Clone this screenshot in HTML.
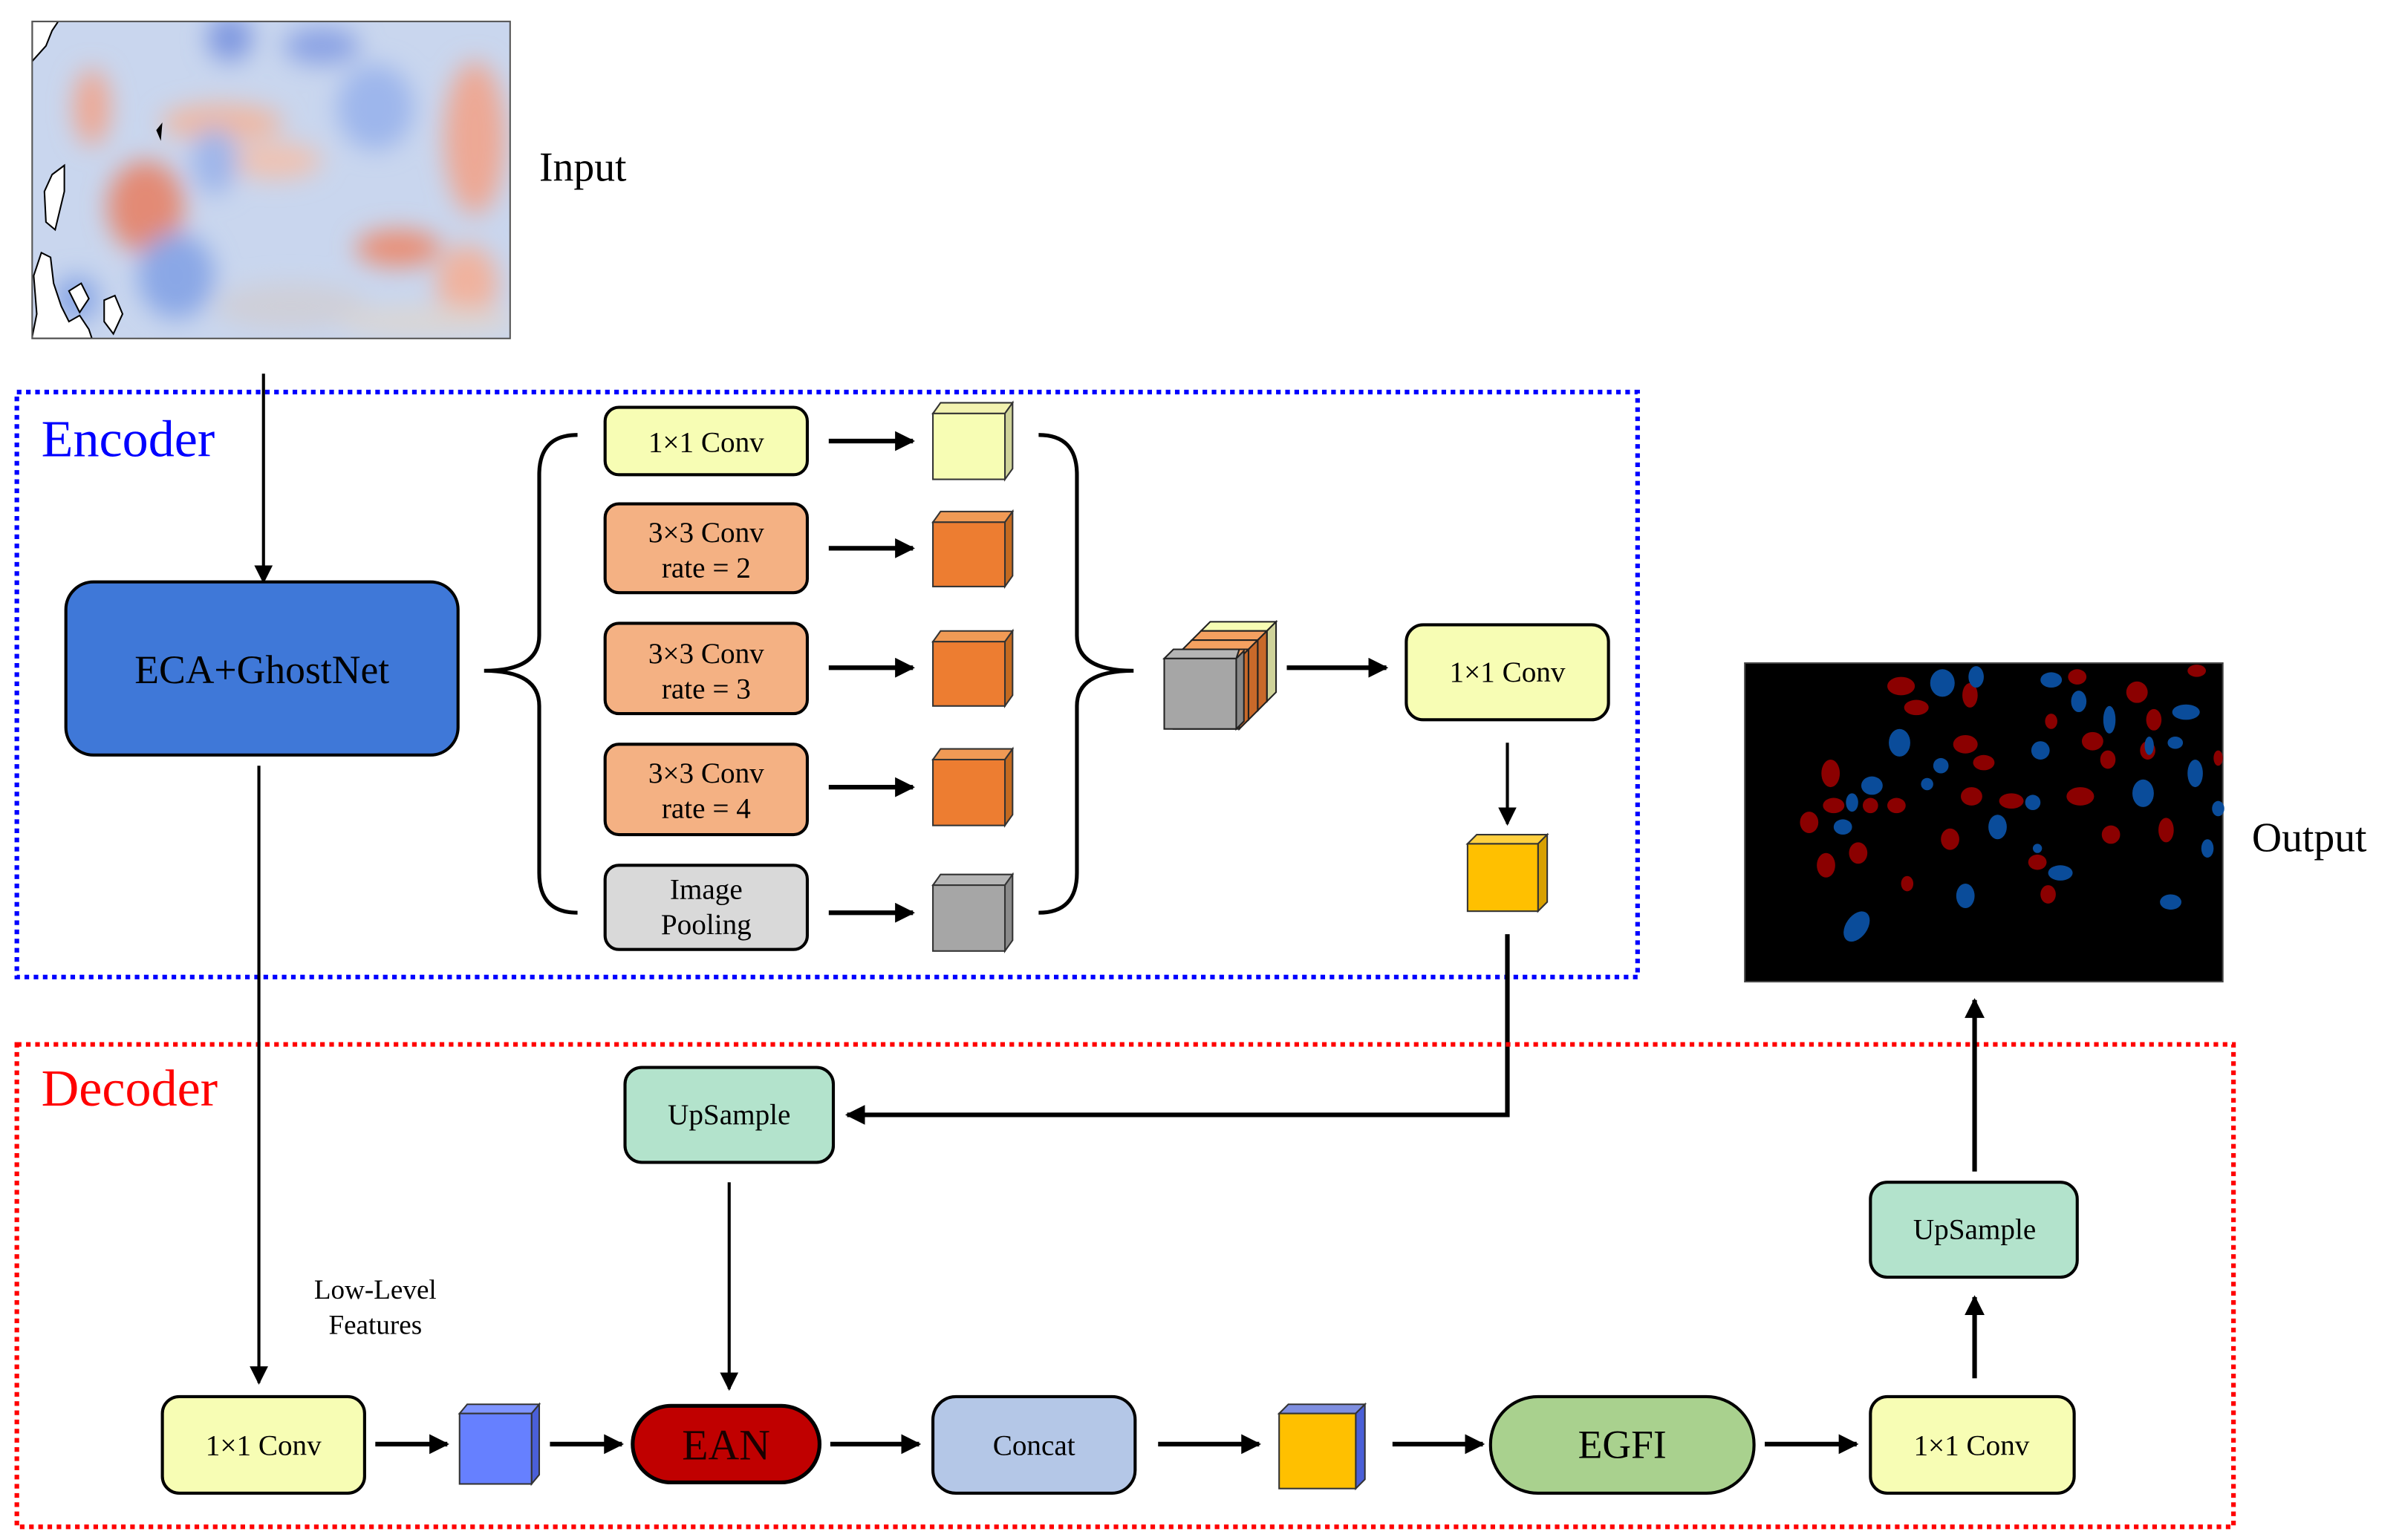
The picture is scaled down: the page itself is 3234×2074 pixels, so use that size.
<!DOCTYPE html>
<html><head><meta charset="utf-8"><style>
html,body{margin:0;padding:0;background:#fff;}
svg{display:block;}
text{font-family:"Liberation Serif",serif;fill:#000;}
</style></head><body>
<svg width="3234" height="2074" viewBox="0 0 1568 1005.6" preserveAspectRatio="none" xmlns="http://www.w3.org/2000/svg">
<defs>
<marker id="ah" viewBox="0 0 10 10" refX="9" refY="5" markerWidth="13" markerHeight="13" orient="auto" markerUnits="userSpaceOnUse"><path d="M0,0 L10,5 L0,10 z" fill="#000"/></marker>
<marker id="ah2" viewBox="0 0 10 10" refX="9" refY="5" markerWidth="12" markerHeight="12" orient="auto" markerUnits="userSpaceOnUse"><path d="M0,0 L10,5 L0,10 z" fill="#000"/></marker>
<filter id="bl" x="-20%" y="-20%" width="140%" height="140%"><feGaussianBlur stdDeviation="8"/></filter>
<clipPath id="mc"><rect x="21" y="14" width="312" height="207"/></clipPath>
</defs>

<!-- Input map -->
<g clip-path="url(#mc)">
<rect x="21" y="14" width="312" height="207" fill="#c9d6ee"/>
<g filter="url(#bl)">
<ellipse cx="95" cy="135" rx="25" ry="30" fill="#e38a74"/>
<ellipse cx="145" cy="80" rx="40" ry="12" fill="#efb8a2"/>
<ellipse cx="60" cy="70" rx="12" ry="25" fill="#eda894"/>
<ellipse cx="260" cy="162" rx="28" ry="12" fill="#e98e74"/>
<ellipse cx="310" cy="90" rx="20" ry="50" fill="#eda894"/>
<ellipse cx="305" cy="185" rx="20" ry="25" fill="#f0b29e"/>
<ellipse cx="180" cy="105" rx="30" ry="12" fill="#efc2b2"/>
<ellipse cx="150" cy="25" rx="15" ry="15" fill="#7f98e0"/>
<ellipse cx="210" cy="30" rx="25" ry="12" fill="#8aa2e4"/>
<ellipse cx="245" cy="70" rx="25" ry="28" fill="#9db6ec"/>
<ellipse cx="140" cy="105" rx="15" ry="22" fill="#9fb6ea"/>
<ellipse cx="115" cy="180" rx="25" ry="28" fill="#8aa7e6"/>
<ellipse cx="190" cy="200" rx="50" ry="15" fill="#cfcfd8"/>
<ellipse cx="280" cy="210" rx="60" ry="10" fill="#dad6d4"/>
<ellipse cx="50" cy="195" rx="15" ry="15" fill="#8aa7e6"/>
</g>
<path d="M21,40 L30,30 L34,20 L38,14 L21,14 Z" fill="#fff" stroke="#000" stroke-width="1"/>
<path d="M34,114 L42,108 L42,125 L36,150 L30,145 L29,125 Z" fill="#fff" stroke="#000" stroke-width="1"/>
<path d="M21,220 L24,205 L22,180 L27,165 L33,168 L35,185 L40,200 L45,210 L52,206 L58,215 L60,221 L21,221 Z" fill="#fff" stroke="#000" stroke-width="1"/>
<path d="M45,190 L53,185 L58,195 L52,204 Z" fill="#fff" stroke="#000" stroke-width="1"/>
<path d="M68,196 L75,193 L80,205 L74,218 L68,210 Z" fill="#fff" stroke="#000" stroke-width="1"/>
<path d="M102,85 L106,80 L105,92 Z" fill="#000"/>
</g>
<rect x="21" y="14" width="312" height="207" fill="none" stroke="#555" stroke-width="1"/>
<text x="352" y="118" font-size="27">Input</text>

<!-- Encoder box -->
<rect x="11" y="256" width="1058" height="382" fill="none" stroke="#0000ff" stroke-width="3" stroke-dasharray="3,3"/>
<text x="27" y="298" font-size="34" style="fill:#0000ff">Encoder</text>

<line x1="172" y1="244" x2="172" y2="380" stroke="#000" stroke-width="2" marker-end="url(#ah2)"/>
<rect x="43" y="380" width="256" height="113" rx="18" fill="#3f78d8" stroke="#000" stroke-width="2"/>
<text x="171" y="446" font-size="26" text-anchor="middle">ECA+GhostNet</text>

<path d="M377,284 Q352,284 352,310 L352,415 Q352,438 316,438 Q352,438 352,461 L352,570 Q352,596 377,596" fill="none" stroke="#000" stroke-width="2.5"/>
<path d="M678,284 Q703,284 703,310 L703,415 Q703,438 740,438 Q703,438 703,461 L703,570 Q703,596 678,596" fill="none" stroke="#000" stroke-width="2.5"/>

<rect x="395" y="266" width="132" height="44" rx="9" fill="#f7fdb4" stroke="#000" stroke-width="2"/>
<text x="461" y="295" font-size="19" text-anchor="middle">1×1 Conv</text>
<rect x="395" y="329" width="132" height="58" rx="9" fill="#f4b183" stroke="#000" stroke-width="2"/>
<text x="461" y="354" font-size="19" text-anchor="middle">3×3 Conv</text><text x="461" y="377" font-size="19" text-anchor="middle">rate = 2</text>
<rect x="395" y="407" width="132" height="59" rx="9" fill="#f4b183" stroke="#000" stroke-width="2"/>
<text x="461" y="433" font-size="19" text-anchor="middle">3×3 Conv</text><text x="461" y="456" font-size="19" text-anchor="middle">rate = 3</text>
<rect x="395" y="486" width="132" height="59" rx="9" fill="#f4b183" stroke="#000" stroke-width="2"/>
<text x="461" y="511" font-size="19" text-anchor="middle">3×3 Conv</text><text x="461" y="534" font-size="19" text-anchor="middle">rate = 4</text>
<rect x="395" y="565" width="132" height="55" rx="9" fill="#d9d9d9" stroke="#000" stroke-width="2"/>
<text x="461" y="587" font-size="19" text-anchor="middle">Image</text><text x="461" y="610" font-size="19" text-anchor="middle">Pooling</text>

<g stroke="#000" stroke-width="3">
<line x1="541" y1="288" x2="596" y2="288" marker-end="url(#ah)"/>
<line x1="541" y1="358" x2="596" y2="358" marker-end="url(#ah)"/>
<line x1="541" y1="436" x2="596" y2="436" marker-end="url(#ah)"/>
<line x1="541" y1="514" x2="596" y2="514" marker-end="url(#ah)"/>
<line x1="541" y1="596" x2="596" y2="596" marker-end="url(#ah)"/>
<line x1="840" y1="436" x2="905" y2="436" marker-end="url(#ah)"/>
</g>

<g stroke="#333" stroke-width="1">
<path d="M609,270 L614,263 L661,263 L656,270 Z" fill="#f2f2b0"/><path d="M656,270 L661,263 L661,306 L656,313 Z" fill="#cfd39a"/><rect x="609" y="270" width="47" height="43" fill="#f7fdb4"/>
<path d="M609,341 L614,334 L661,334 L656,341 Z" fill="#f09a55"/><path d="M656,341 L661,334 L661,376 L656,383 Z" fill="#c46a20"/><rect x="609" y="341" width="47" height="42" fill="#ed7d31"/>
<path d="M609,419 L614,412 L661,412 L656,419 Z" fill="#f09a55"/><path d="M656,419 L661,412 L661,454 L656,461 Z" fill="#c46a20"/><rect x="609" y="419" width="47" height="42" fill="#ed7d31"/>
<path d="M609,496 L614,489 L661,489 L656,496 Z" fill="#f09a55"/><path d="M656,496 L661,489 L661,532 L656,539 Z" fill="#c46a20"/><rect x="609" y="496" width="47" height="43" fill="#ed7d31"/>
<path d="M609,578 L614,571 L661,571 L656,578 Z" fill="#b5b5b5"/><path d="M656,578 L661,571 L661,614 L656,621 Z" fill="#8a8a8a"/><rect x="609" y="578" width="47" height="43" fill="#a6a6a6"/>
</g>

<g stroke="#222" stroke-width="1">
<path d="M784,412 L790,406 L833,406 L827,412 Z" fill="#f7fdb4"/><path d="M827,412 L833,406 L833,452 L827,458 Z" fill="#cfd39a"/><rect x="784" y="412" width="43" height="46" fill="#f7fdb4"/>
<path d="M778,418 L784,412 L827,412 L821,418 Z" fill="#f4a060"/><path d="M821,418 L827,412 L827,458 L821,464 Z" fill="#c8692a"/><rect x="778" y="418" width="43" height="46" fill="#ed7d31"/>
<path d="M772,424 L778,418 L821,418 L815,424 Z" fill="#f4a060"/><path d="M815,424 L821,418 L821,464 L815,470 Z" fill="#c8692a"/><rect x="772" y="424" width="43" height="46" fill="#ed7d31"/>
<path d="M766,430 L772,424 L815,424 L809,430 Z" fill="#f4a060"/><path d="M809,430 L815,424 L815,470 L809,476 Z" fill="#c8692a"/><rect x="766" y="430" width="43" height="46" fill="#ed7d31"/>
<path d="M760,430 L766,424 L809,424 L807,430 Z" fill="#b5b5b5"/><path d="M807,430 L812,425 L812,471 L807,476 Z" fill="#888"/><rect x="760" y="430" width="47" height="46" fill="#a6a6a6"/>
</g>

<rect x="918" y="408" width="132" height="62" rx="11" fill="#f7fdb4" stroke="#000" stroke-width="2"/>
<text x="984" y="445" font-size="19" text-anchor="middle">1×1 Conv</text>
<line x1="984" y1="485" x2="984" y2="538" stroke="#000" stroke-width="2" marker-end="url(#ah2)"/>
<g stroke="#333" stroke-width="1">
<path d="M958,551 L964,545 L1010,545 L1004,551 Z" fill="#ffd040"/><path d="M1004,551 L1010,545 L1010,589 L1004,595 Z" fill="#d8a000"/><rect x="958" y="551" width="46" height="44" fill="#ffc000"/>
</g>
<polyline points="984,610 984,728 553,728" fill="none" stroke="#000" stroke-width="3" marker-end="url(#ah)"/>

<rect x="11" y="682" width="1447" height="315" fill="none" stroke="#ff0000" stroke-width="3" stroke-dasharray="3,3"/>
<text x="27" y="722" font-size="34" style="fill:#ff0000">Decoder</text>

<rect x="408" y="697" width="136" height="62" rx="11" fill="#b3e3cc" stroke="#000" stroke-width="2"/>
<text x="476" y="734" font-size="19" text-anchor="middle">UpSample</text>
<line x1="476" y1="772" x2="476" y2="907" stroke="#000" stroke-width="2" marker-end="url(#ah2)"/>
<line x1="169" y1="500" x2="169" y2="903" stroke="#000" stroke-width="2" marker-end="url(#ah2)"/>
<text x="245" y="848" font-size="18" text-anchor="middle">Low-Level</text>
<text x="245" y="871" font-size="18" text-anchor="middle">Features</text>

<rect x="106" y="912" width="132" height="63" rx="11" fill="#f7fdb4" stroke="#000" stroke-width="2"/>
<text x="172" y="950" font-size="19" text-anchor="middle">1×1 Conv</text>
<g stroke="#333" stroke-width="1">
<path d="M300,923 L305,917 L352,917 L347,923 Z" fill="#7f95ff"/><path d="M347,923 L352,917 L352,963 L347,969 Z" fill="#4a5fd8"/><rect x="300" y="923" width="47" height="46" fill="#6680ff"/>
</g>
<rect x="413" y="918" width="122" height="50" rx="25" fill="#c00000" stroke="#000" stroke-width="2.5"/>
<text x="474" y="953" font-size="28" text-anchor="middle" style="fill:#1a0000">EAN</text>
<rect x="609" y="912" width="132" height="63" rx="15" fill="#b4c7e7" stroke="#000" stroke-width="2"/>
<text x="675" y="950" font-size="19" text-anchor="middle">Concat</text>
<g stroke="#333" stroke-width="1">
<path d="M835,923 L841,917 L891,917 L885,923 Z" fill="#7f8fe0"/><path d="M885,923 L891,917 L891,966 L885,972 Z" fill="#4a5fd8"/><rect x="835" y="923" width="50" height="49" fill="#ffc000"/>
</g>
<rect x="973" y="912" width="172" height="63" rx="31" fill="#a9d18e" stroke="#000" stroke-width="2"/>
<text x="1059" y="952" font-size="26" text-anchor="middle">EGFI</text>
<rect x="1221" y="912" width="133" height="63" rx="11" fill="#f7fdb4" stroke="#000" stroke-width="2"/>
<text x="1287" y="950" font-size="19" text-anchor="middle">1×1 Conv</text>
<rect x="1221" y="772" width="135" height="62" rx="11" fill="#b3e3cc" stroke="#000" stroke-width="2"/>
<text x="1289" y="809" font-size="19" text-anchor="middle">UpSample</text>

<g stroke="#000" stroke-width="3">
<line x1="245" y1="943" x2="292" y2="943" marker-end="url(#ah)"/>
<line x1="359" y1="943" x2="406" y2="943" marker-end="url(#ah)"/>
<line x1="542" y1="943" x2="600" y2="943" marker-end="url(#ah)"/>
<line x1="756" y1="943" x2="822" y2="943" marker-end="url(#ah)"/>
<line x1="909" y1="943" x2="968" y2="943" marker-end="url(#ah)"/>
<line x1="1152" y1="943" x2="1212" y2="943" marker-end="url(#ah)"/>
<line x1="1289" y1="900" x2="1289" y2="847" marker-end="url(#ah)"/>
<line x1="1289" y1="765" x2="1289" y2="653" marker-end="url(#ah)"/>
</g>

<rect x="1139" y="433" width="312" height="208" fill="#000" stroke="#444" stroke-width="1"/>
<g fill="#8b0000">
<ellipse cx="1241" cy="448" rx="9" ry="6"/><ellipse cx="1251" cy="462" rx="8" ry="5"/><ellipse cx="1286" cy="454" rx="5" ry="8"/>
<ellipse cx="1283" cy="486" rx="8" ry="6"/><ellipse cx="1195" cy="505" rx="6" ry="9"/><ellipse cx="1197" cy="526" rx="7" ry="5"/>
<ellipse cx="1221" cy="526" rx="5" ry="5"/><ellipse cx="1238" cy="526" rx="6" ry="5"/><ellipse cx="1181" cy="537" rx="6" ry="7"/>
<ellipse cx="1192" cy="565" rx="6" ry="8"/><ellipse cx="1213" cy="557" rx="6" ry="7"/><ellipse cx="1287" cy="520" rx="7" ry="6"/>
<ellipse cx="1295" cy="498" rx="7" ry="5"/><ellipse cx="1273" cy="548" rx="6" ry="7"/><ellipse cx="1313" cy="523" rx="8" ry="5"/>
<ellipse cx="1245" cy="577" rx="4" ry="5"/><ellipse cx="1330" cy="563" rx="6" ry="5"/><ellipse cx="1337" cy="584" rx="5" ry="6"/>
<ellipse cx="1339" cy="471" rx="4" ry="5"/><ellipse cx="1356" cy="442" rx="6" ry="5"/><ellipse cx="1366" cy="484" rx="7" ry="6"/>
<ellipse cx="1358" cy="520" rx="9" ry="6"/><ellipse cx="1376" cy="496" rx="5" ry="6"/><ellipse cx="1378" cy="545" rx="6" ry="6"/>
<ellipse cx="1395" cy="452" rx="7" ry="7"/><ellipse cx="1406" cy="470" rx="5" ry="7"/><ellipse cx="1402" cy="490" rx="5" ry="6"/>
<ellipse cx="1414" cy="542" rx="5" ry="8"/><ellipse cx="1434" cy="438" rx="6" ry="4"/><ellipse cx="1448" cy="495" rx="3" ry="5"/>
</g>
<g fill="#0a4c9a">
<ellipse cx="1268" cy="446" rx="8" ry="9"/><ellipse cx="1290" cy="442" rx="5" ry="7"/><ellipse cx="1339" cy="444" rx="7" ry="5"/>
<ellipse cx="1357" cy="458" rx="5" ry="7"/><ellipse cx="1240" cy="485" rx="7" ry="9"/><ellipse cx="1332" cy="490" rx="6" ry="6"/>
<ellipse cx="1222" cy="513" rx="7" ry="6"/><ellipse cx="1209" cy="524" rx="4" ry="6"/><ellipse cx="1267" cy="500" rx="5" ry="5"/>
<ellipse cx="1258" cy="512" rx="4" ry="4"/><ellipse cx="1203" cy="540" rx="6" ry="5"/><ellipse cx="1304" cy="540" rx="6" ry="8"/>
<ellipse cx="1327" cy="524" rx="5" ry="5"/><ellipse cx="1345" cy="570" rx="8" ry="5"/><ellipse cx="1330" cy="554" rx="3" ry="3"/>
<ellipse cx="1283" cy="585" rx="6" ry="8"/><ellipse cx="1212" cy="605" rx="7" ry="11" transform="rotate(35 1212 605)"/>
<ellipse cx="1377" cy="470" rx="4" ry="9"/><ellipse cx="1399" cy="518" rx="7" ry="9"/><ellipse cx="1427" cy="465" rx="9" ry="5"/>
<ellipse cx="1420" cy="485" rx="5" ry="4"/><ellipse cx="1433" cy="505" rx="5" ry="9"/><ellipse cx="1448" cy="528" rx="4" ry="5"/>
<ellipse cx="1441" cy="554" rx="4" ry="6"/><ellipse cx="1417" cy="589" rx="7" ry="5"/><ellipse cx="1403" cy="487" rx="3" ry="6"/>
</g>
<text x="1470" y="556" font-size="27">Output</text>
</svg>
</body></html>
